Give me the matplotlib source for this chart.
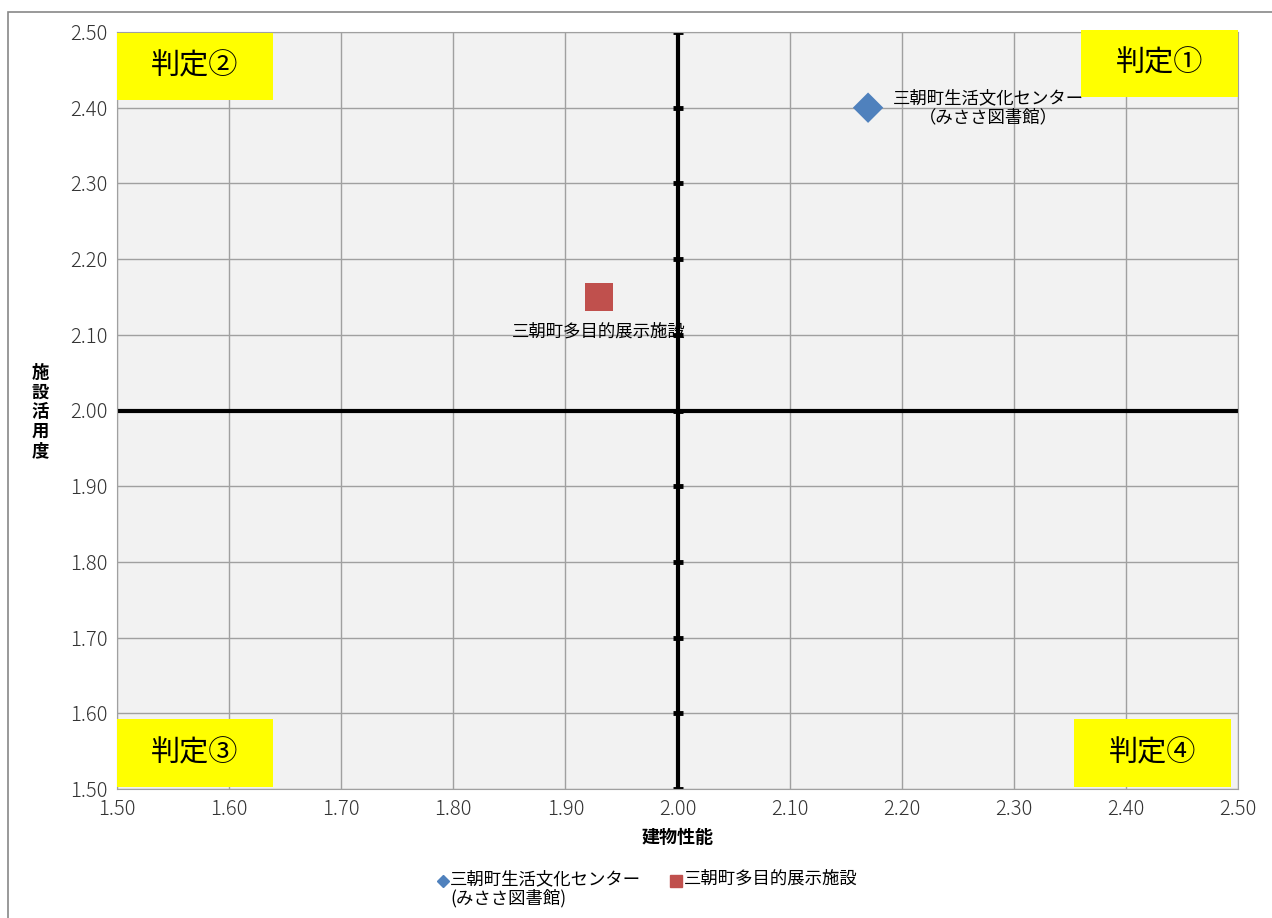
import matplotlib
matplotlib.use("Agg")
import matplotlib.pyplot as plt
from matplotlib.lines import Line2D
from matplotlib.patches import Rectangle

plt.rcParams['font.family'] = ['Noto Sans CJK JP', 'DejaVu Sans']

# data
names = ["三朝町生活文化センター\n(みささ図書館)", "三朝町多目的展示施設"]
point_labels = ["三朝町生活文化センター\n（みささ図書館）", "三朝町多目的展示施設"]
x_vals = [2.17, 1.93]
y_vals = [2.40, 2.15]
colors = ["#4F81BD", "#C0504D"]
markers = ["D", "s"]
ticks = [1.50, 1.60, 1.70, 1.80, 1.90, 2.00, 2.10, 2.20, 2.30, 2.40, 2.50]
quad_labels = ["判定①", "判定②", "判定③", "判定④"]

W, H = 1272, 918
fig = plt.figure(figsize=(W / 100, H / 100), dpi=100)
# outer border
fig.add_artist(Rectangle((8 / W, -0.01), 1.02, 1 - 12 / H + 0.01, transform=fig.transFigure,
                         fill=False, edgecolor="#888888", linewidth=1.2))

ax = fig.add_axes([117 / W, 1 - 789 / H, (1238 - 117) / W, (789 - 32) / H])
ax.set_facecolor("#F2F2F2")
ax.set_xlim(1.5, 2.5)
ax.set_ylim(1.5, 2.5)
ax.set_xticks(ticks)
ax.set_yticks(ticks)
ax.set_xticklabels([f"{t:.2f}" for t in ticks], fontsize=14.5, color="#333333", fontweight="light")
ax.set_yticklabels([f"{t:.2f}" for t in ticks], fontsize=14.5, color="#333333", fontweight="light")
ax.tick_params(length=0, pad=7)
ax.grid(True, color="#A0A0A0", linewidth=1)
ax.set_axisbelow(True)
for s in ax.spines.values():
    s.set_color("#A0A0A0")

# quadrant axes
ax.axhline(2.0, color="black", linewidth=3, zorder=2)
ax.axvline(2.0, color="black", linewidth=3, zorder=2)
ax.plot([2.0] * len(ticks), ticks, linestyle="none", marker="_", markersize=7,
        markeredgewidth=3.5, color="black", zorder=2)

# points
for xv, yv, c, m in zip(x_vals, y_vals, colors, markers):
    ax.scatter([xv], [yv], marker=m, s=240 if m == "D" else 390, color=c, zorder=4,
               edgecolors="none")

ax.annotate(point_labels[0], (x_vals[0], y_vals[0]), xytext=(18, 0), textcoords="offset points",
            fontsize=12.5, ha="left", va="center", multialignment="center", zorder=5,
            linespacing=1.05)
ax.annotate(point_labels[1], (x_vals[1], y_vals[1]), xytext=(0, -25), textcoords="offset points",
            fontsize=12.5, ha="center", va="center", zorder=5)

# quadrant label boxes (pixel positions relative to figure)
boxes = [(1081, 30, 1238, 97), (117, 33, 273, 100), (117, 719, 273, 787), (1074, 719, 1231, 787)]
for lab, (x0, y0, x1, y1) in zip(quad_labels, boxes):
    fig.add_artist(Rectangle((x0 / W, 1 - y1 / H), (x1 - x0) / W, (y1 - y0) / H,
                             transform=fig.transFigure, facecolor="#FFFF00", edgecolor="none", zorder=5))
    fig.text((x0 + x1) / 2 / W, 1 - (y0 + y1) / 2 / H, lab, fontsize=21, ha="center", va="center", zorder=6)

ax.set_xlabel("建物性能", fontsize=13, fontweight="bold", labelpad=6)
fig.text(40 / W, 1 - 412 / H, "施\n設\n活\n用\n度", fontsize=12.5, fontweight="bold",
         ha="center", va="center", linespacing=1.1)

# legend (drawn manually to match layout)
leg_y = 1 - 881 / H
fig.add_artist(Line2D([443 / W], [leg_y], linestyle="none", marker="D", color=colors[0],
                      markersize=6, transform=fig.transFigure))
fig.text(450 / W, 1 - 870 / H, names[0], fontsize=12.5, ha="left", va="top", linespacing=1.1)
fig.add_artist(Line2D([676 / W], [leg_y], linestyle="none", marker="s", color=colors[1],
                      markersize=9, transform=fig.transFigure))
fig.text(684 / W, 1 - 870 / H, names[1], fontsize=12.5, ha="left", va="top")

fig.savefig("out.png", dpi=100)
